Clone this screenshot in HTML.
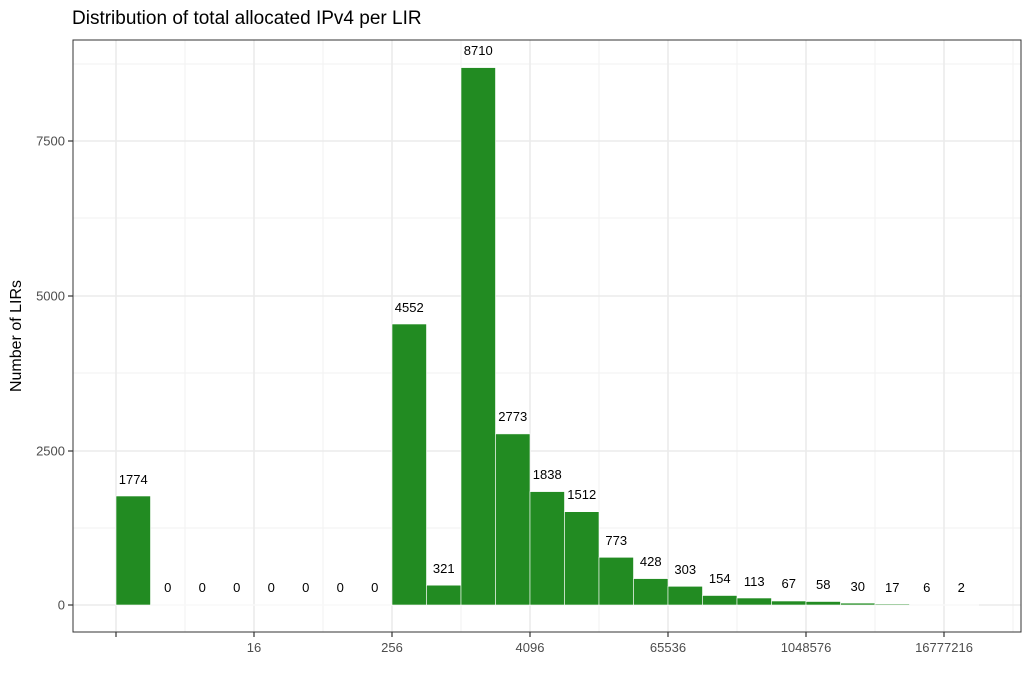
<!DOCTYPE html>
<html><head><meta charset="utf-8"><style>body{margin:0;background:#fff}svg{display:block}text{font-family:"Liberation Sans",sans-serif}</style></head><body>
<svg width="1032" height="684" viewBox="0 0 1032 684" xmlns="http://www.w3.org/2000/svg">
<rect width="1032" height="684" fill="#fff"/>
<text x="72" y="24" font-size="19" fill="#000">Distribution of total allocated IPv4 per LIR</text>
<g stroke="#f2f2f2" stroke-width="1">
<line x1="73" x2="1021" y1="528" y2="528"/><line x1="73" x2="1021" y1="373" y2="373"/><line x1="73" x2="1021" y1="218" y2="218"/><line x1="73" x2="1021" y1="64" y2="64"/>
<line y1="40" y2="632" x1="185" x2="185"/><line y1="40" y2="632" x1="323" x2="323"/><line y1="40" y2="632" x1="461" x2="461"/><line y1="40" y2="632" x1="599" x2="599"/><line y1="40" y2="632" x1="737" x2="737"/><line y1="40" y2="632" x1="875" x2="875"/><line y1="40" y2="632" x1="1013" x2="1013"/>
</g>
<g stroke="#ebebeb" stroke-width="1.6">
<line x1="73" x2="1021" y1="605" y2="605"/><line x1="73" x2="1021" y1="451" y2="451"/><line x1="73" x2="1021" y1="296" y2="296"/><line x1="73" x2="1021" y1="141" y2="141"/>
<line y1="40" y2="632" x1="116" x2="116"/><line y1="40" y2="632" x1="254" x2="254"/><line y1="40" y2="632" x1="392" x2="392"/><line y1="40" y2="632" x1="530" x2="530"/><line y1="40" y2="632" x1="668" x2="668"/><line y1="40" y2="632" x1="806" x2="806"/><line y1="40" y2="632" x1="944" x2="944"/>
</g>
<line x1="116" x2="979" y1="605" y2="605" stroke="#fff" stroke-width="1"/>
<g fill="#228b22" stroke="#fff" stroke-width="0.6">
<rect x="116" y="496" width="34.5" height="109"/>
<rect x="392" y="324" width="34.5" height="281"/>
<rect x="426.5" y="585.2" width="34.5" height="19.8"/>
<rect x="461" y="67.6" width="34.5" height="537.4"/>
<rect x="495.5" y="433.9" width="34.5" height="171.1"/>
<rect x="530" y="491.6" width="34.5" height="113.4"/>
<rect x="564.5" y="511.7" width="34.5" height="93.3"/>
<rect x="599" y="557.3" width="34.5" height="47.7"/>
<rect x="633.5" y="578.6" width="34.5" height="26.4"/>
<rect x="668" y="586.3" width="34.5" height="18.7"/>
<rect x="702.5" y="595.5" width="34.5" height="9.5"/>
<rect x="737" y="598" width="34.5" height="7"/>
<rect x="771.5" y="601" width="34.5" height="4"/>
<rect x="806" y="601.5" width="34.5" height="3.5"/>
<rect x="840.5" y="603.1" width="34.5" height="1.9"/>
<rect x="875" y="604" width="34.5" height="1"/>
</g>
<g font-size="13" fill="#000" text-anchor="middle">
<text x="133.25" y="484">1774</text>
<text x="167.75" y="592">0</text><text x="202.25" y="592">0</text><text x="236.75" y="592">0</text><text x="271.25" y="592">0</text><text x="305.75" y="592">0</text><text x="340.25" y="592">0</text><text x="374.75" y="592">0</text>
<text x="409.25" y="312">4552</text>
<text x="443.75" y="573">321</text>
<text x="478.25" y="55">8710</text>
<text x="512.75" y="421">2773</text>
<text x="547.25" y="479">1838</text>
<text x="581.75" y="499">1512</text>
<text x="616.25" y="545">773</text>
<text x="650.75" y="566">428</text>
<text x="685.25" y="574">303</text>
<text x="719.75" y="583">154</text>
<text x="754.25" y="586">113</text>
<text x="788.75" y="588">67</text>
<text x="823.25" y="589">58</text>
<text x="857.75" y="591">30</text>
<text x="892.25" y="592">17</text>
<text x="926.75" y="592">6</text>
<text x="961.25" y="592">2</text>
</g>
<rect x="73" y="40" width="948" height="592" fill="none" stroke="#333" stroke-width="1"/>
<g stroke="#333" stroke-width="1.2">
<line x1="68" x2="73" y1="605" y2="605"/><line x1="68" x2="73" y1="451" y2="451"/><line x1="68" x2="73" y1="296" y2="296"/><line x1="68" x2="73" y1="141" y2="141"/>
<line y1="632" y2="637" x1="116" x2="116"/><line y1="632" y2="637" x1="254" x2="254"/><line y1="632" y2="637" x1="392" x2="392"/><line y1="632" y2="637" x1="530" x2="530"/><line y1="632" y2="637" x1="668" x2="668"/><line y1="632" y2="637" x1="806" x2="806"/><line y1="632" y2="637" x1="944" x2="944"/>
</g>
<g font-size="13" fill="#4d4d4d" text-anchor="end">
<text x="65" y="609.5">0</text><text x="65" y="455.5">2500</text><text x="65" y="300.5">5000</text><text x="65" y="145.5">7500</text>
</g>
<g font-size="13" fill="#4d4d4d" text-anchor="middle">
<text x="254" y="652">16</text><text x="392" y="652">256</text><text x="530" y="652">4096</text><text x="668" y="652">65536</text><text x="806" y="652">1048576</text><text x="944" y="652">16777216</text>
</g>
<text transform="translate(21,336) rotate(-90)" font-size="16" fill="#000" text-anchor="middle">Number of LIRs</text>
</svg>
</body></html>
